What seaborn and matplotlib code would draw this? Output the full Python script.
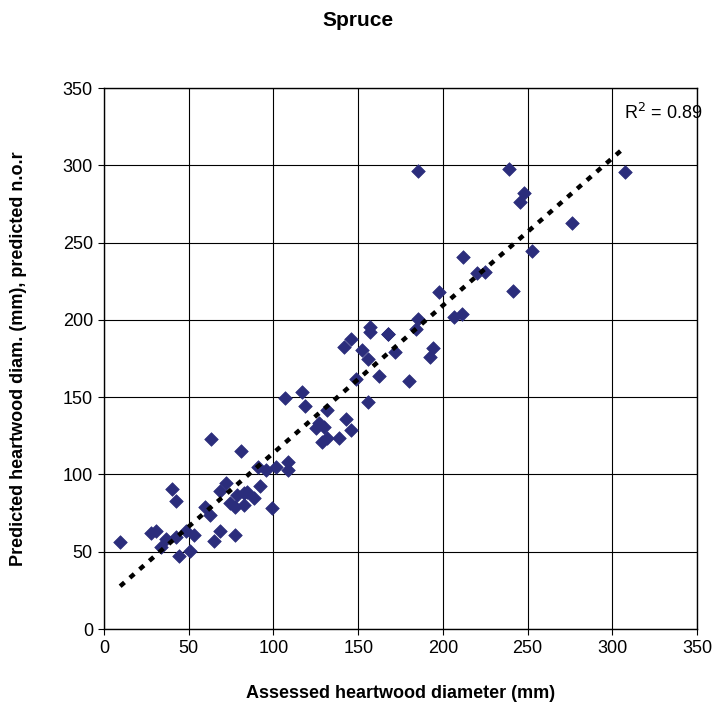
import matplotlib
matplotlib.use("Agg")
import matplotlib.pyplot as plt
import seaborn as sns
import numpy as np
import pandas as pd

title = "Spruce"
x_label = "Assessed heartwood diameter (mm)"
y_label = "Predicted heartwood diam. (mm), predicted n.o.r"
r2_text = "R$^2$ = 0.89"

assessed = [9.5, 27.6, 30.8, 36.3, 33.7, 40, 42.4, 42.4, 44.4, 48.5, 50.5, 52.9,
            62.9, 59.8, 62.7, 68.2, 65.1, 68.6, 72.2, 77.5, 80.7, 74.2, 77.5, 78.5,
            82.4, 84.4, 88.4, 82.4, 91.9, 90.7, 95.3, 99.2, 101.6, 108.6, 108.6,
            106.5, 116.6, 118.5, 131.4, 126.8, 129.8, 124.9, 142.6, 145.6, 138.6,
            128.8, 131.4, 141.6, 145.6, 157, 157, 152.1, 156, 167.3, 171.6, 148.9,
            162.3, 156, 180.1, 194.3, 192.3, 185, 184, 206.7, 211.2,
            185, 238.9, 248.1, 245.2, 276.1, 252.5, 212, 220.1, 224.9, 241.2,
            197.4, 167.6, 307.3]
predicted = [56.5, 61.9, 63.4, 58.4, 52.8, 90.4, 82.6, 59.7, 47.4, 63.4, 50.6, 60.8,
             122.9, 79.1, 73.7, 63.4, 57.1, 89.3, 94.2, 60.8, 114.9, 81.3, 79.1, 86.7,
             87.8, 88.8, 84.5, 80.2, 92.5, 105, 102.8, 78.1, 105, 108.2, 102.8,
             149.2, 153.5, 144.2, 141.7, 133, 130.8, 129.8, 135.8, 128.7, 123.3,
             121.2, 123.3, 182.6, 187.4, 195.6, 192.3, 180.5, 174.6, 190.8, 179.4, 161.7,
             163.6, 146.6, 160.4, 182, 175.7, 200.3, 193.9, 202, 203.6,
             296.4, 297.5, 282.2, 276.4, 262.8, 244.7, 240.4, 230.1, 231.1, 218.8,
             217.8, 190.6, 295.4]

df = pd.DataFrame({"assessed": assessed, "predicted": predicted})

sns.set_theme(style="white")
plt.rcParams["font.family"] = ["Liberation Sans", "DejaVu Sans"]
plt.rcParams["text.color"] = "black"
plt.rcParams["axes.labelcolor"] = "black"

fig = plt.figure(figsize=(7.15, 7.16), dpi=100)
ax = fig.add_axes([0.1455, 0.1215, 0.8295, 0.7555])

sns.regplot(data=df, x="assessed", y="predicted", ax=ax, ci=None, marker="D",
            scatter_kws=dict(s=48, color="#2B2D7C", edgecolor="#2B2D7C",
                             linewidths=0.5, alpha=1, zorder=3),
            line_kws=dict(color="black", lw=3.2, ls=(0, (1.3, 1.6)), zorder=4))

ax.set_xlim(0, 350)
ax.set_ylim(0, 350)
ax.set_xticks(np.arange(0, 351, 50))
ax.set_yticks(np.arange(0, 351, 50))
ax.grid(True, color="black", lw=0.8)
ax.set_axisbelow(True)
for s in ax.spines.values():
    s.set_color("black")
    s.set_linewidth(1.0)
ax.tick_params(axis="both", which="major", direction="out", length=4, width=0.8,
               color="black", labelsize=13, labelcolor="black", pad=4,
               bottom=True, left=True)

ax.set_xlabel(x_label, fontsize=13, fontweight="bold", labelpad=20, color="black")
ax.set_ylabel(y_label, fontsize=13, fontweight="bold", labelpad=26, color="black")
fig.suptitle(title, fontsize=15, fontweight="bold", y=0.985, color="black")

ax.text(307, 334, r2_text, fontsize=13, va="center", ha="left", clip_on=False,
        color="black")

fig.savefig("out.png", dpi=100)
